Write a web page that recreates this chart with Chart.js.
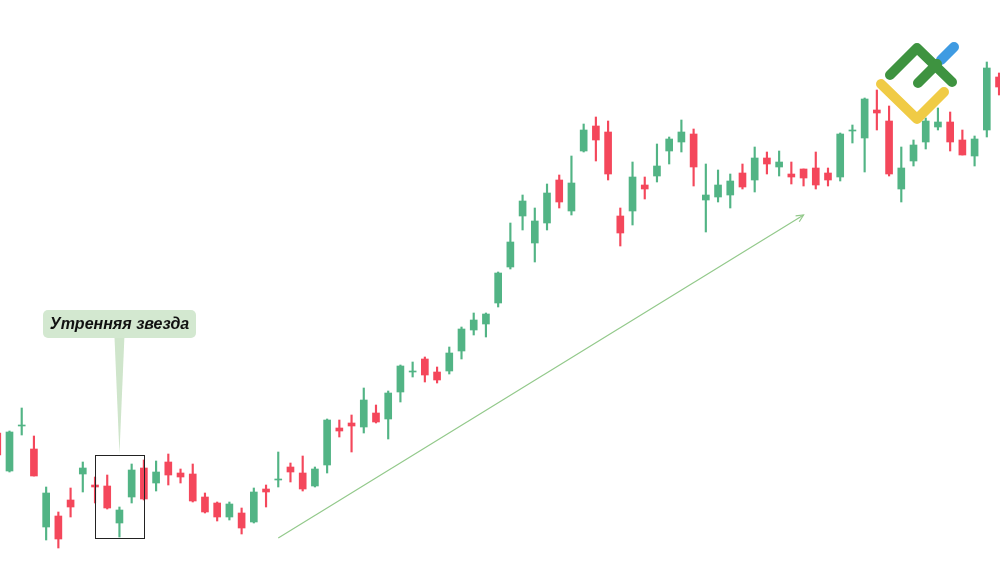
<!DOCTYPE html>
<html>
<head>
<meta charset="utf-8">
<script src="https://cdn.jsdelivr.net/npm/chart.js@4.4.1/dist/chart.umd.min.js"></script>
<style>
  html, body { margin: 0; padding: 0; background: #ffffff; }
  #wrap { width: 1000px; height: 573px; position: relative; }
</style>
</head>
<body>
<div id="wrap"><canvas id="chart"></canvas></div>
<script>
// candle prices (arbitrary units)
const opens = [140, 102, 147, 124, 46, 57, 73, 99, 88, 87, 50, 76, 105, 90, 111, 100, 99, 76, 70, 56,
    60, 51, 84, 93, 106, 100, 87, 108, 145, 150, 146, 160, 154, 181, 201, 214, 201, 202, 222, 243,
    249, 270, 306, 357, 330, 350, 393, 362, 422, 447, 441, 357, 362, 388, 397, 422, 431, 439, 373, 376,
    378, 400, 393, 415, 406, 399, 404, 405, 400, 396, 442, 435, 463, 452, 384, 412, 431, 446, 451, 433,
    417, 443, 496];
const closes = [118, 141, 148, 97, 80, 34, 66, 105, 86, 65, 63, 103, 74, 101, 98, 96, 72, 61, 56, 69,
    45, 81, 81, 94, 101, 84, 104, 153, 142, 147, 173, 151, 180, 207, 202, 198, 193, 220, 244, 253,
    259, 300, 331, 372, 352, 380, 371, 390, 443, 433, 399, 340, 396, 384, 407, 434, 441, 406, 378, 388,
    392, 386, 415, 409, 411, 396, 395, 388, 393, 439, 443, 474, 460, 399, 405, 428, 452, 451, 431, 418,
    434, 505, 486];
const highs = [143, 142, 165, 137, 86, 61, 85, 111, 96, 98, 66, 109, 113, 112, 119, 104, 109, 80, 71, 71,
    65, 85, 88, 121, 110, 117, 106, 154, 153, 158, 185, 168, 182, 208, 211, 216, 206, 226, 246, 260,
    260, 301, 350, 378, 365, 389, 398, 417, 449, 456, 452, 365, 411, 396, 429, 436, 453, 444, 409, 403,
    399, 409, 426, 421, 422, 411, 404, 421, 405, 440, 448, 475, 483, 467, 426, 433, 455, 465, 461, 443,
    437, 511, 500];
const lows = [115, 101, 138, 97, 33, 25, 56, 81, 70, 64, 36, 70, 73, 82, 88, 90, 71, 60, 52, 53,
    39, 50, 66, 86, 91, 82, 86, 100, 136, 121, 140, 150, 134, 171, 196, 191, 190, 199, 214, 238,
    236, 266, 304, 343, 311, 343, 365, 358, 421, 412, 393, 327, 348, 374, 391, 409, 421, 387, 341, 371,
    365, 384, 381, 399, 397, 389, 387, 384, 387, 392, 430, 401, 443, 397, 371, 407, 424, 443, 422, 418,
    407, 436, 478];

// pattern marked on the chart
const patternFrom = 8, patternTo = 12, patternLow = 35, patternHigh = 118;
const patternLabel = "Утренняя звезда";
// trend arrow (candle index, price)
const trendFrom = [23, 35], trendTo = [66, 358];

const up = "#52b485";
const down = "#f4475b";
const idx = opens.map((_, i) => i);
const colors = idx.map(i => closes[i] >= opens[i] ? up : down);

const annotations = {
    id: "annotations",
    afterDatasetsDraw(chart) {
        const ctx = chart.ctx;
        const xs = chart.scales.x, ys = chart.scales.y;

        // arrow head on trend line
        const x1 = xs.getPixelForValue(trendFrom[0]), y1 = ys.getPixelForValue(trendFrom[1]);
        const x2 = xs.getPixelForValue(trendTo[0]), y2 = ys.getPixelForValue(trendTo[1]);
        const a = Math.atan2(y2 - y1, x2 - x1);
        ctx.save();
        ctx.strokeStyle = "#93c98b";
        ctx.lineWidth = 1.2;
        ctx.beginPath();
        ctx.moveTo(x2 - 8 * Math.cos(a - 0.45), y2 - 8 * Math.sin(a - 0.45));
        ctx.lineTo(x2, y2);
        ctx.lineTo(x2 - 8 * Math.cos(a + 0.45), y2 - 8 * Math.sin(a + 0.45));
        ctx.stroke();

        // box around the pattern
        const bl = xs.getPixelForValue(patternFrom), br = xs.getPixelForValue(patternTo);
        const bt = ys.getPixelForValue(patternHigh), bb = ys.getPixelForValue(patternLow);
        ctx.strokeStyle = "#222222";
        ctx.lineWidth = 1;
        ctx.strokeRect(Math.round(bl) + 0.5, Math.round(bt) + 0.5, Math.round(br - bl), Math.round(bb - bt));

        // callout
        const cx = (bl + br) / 2;
        ctx.fillStyle = "#cfe5cb";
        ctx.beginPath();
        ctx.moveTo(cx - 5, 336);
        ctx.lineTo(cx + 5, 336);
        ctx.lineTo(cx, bt - 1);
        ctx.closePath();
        ctx.fill();
        ctx.fillStyle = "#d3e8d0";
        ctx.beginPath();
        ctx.roundRect(43, 310, 153, 28, 5);
        ctx.fill();
        ctx.fillStyle = "#111111";
        ctx.font = "italic bold 16px 'Liberation Sans', Arial, sans-serif";
        ctx.textAlign = "center";
        ctx.textBaseline = "middle";
        ctx.fillText(patternLabel, 119.5, 324.5);

        // logo
        ctx.lineCap = "round";
        ctx.lineJoin = "round";
        ctx.lineWidth = 10;
        ctx.strokeStyle = "#3f9be2";
        ctx.beginPath();
        ctx.moveTo(941, 60);
        ctx.lineTo(954, 47);
        ctx.stroke();
        ctx.strokeStyle = "#f0cb45";
        ctx.beginPath();
        ctx.moveTo(881, 84);
        ctx.lineTo(917, 119);
        ctx.lineTo(944, 92);
        ctx.stroke();
        ctx.strokeStyle = "#3e9340";
        ctx.beginPath();
        ctx.moveTo(890, 75);
        ctx.lineTo(917, 48);
        ctx.lineTo(952, 82);
        ctx.stroke();
        ctx.beginPath();
        ctx.moveTo(918, 83);
        ctx.lineTo(937, 64);
        ctx.stroke();
        ctx.restore();
    },
};

new Chart(document.getElementById("chart"), {
    type: "bar",
    data: {
        datasets: [
            {
                label: "body",
                data: idx.map(i => ({ x: i, y: [opens[i], closes[i]] })),
                backgroundColor: colors,
                barThickness: 7,
                borderWidth: 0,
                grouped: false,
                order: 1,
            },
            {
                label: "wick",
                data: idx.map(i => ({ x: i, y: [lows[i], highs[i]] })),
                backgroundColor: colors,
                barThickness: 1.5,
                borderWidth: 0,
                grouped: false,
                order: 2,
            },
            {
                type: "line",
                label: "trend",
                data: [
                    { x: trendFrom[0], y: trendFrom[1] },
                    { x: trendTo[0], y: trendTo[1] },
                ],
                borderColor: "#93c98b",
                borderWidth: 1.2,
                pointRadius: 0,
                fill: false,
                order: 0,
            },
        ],
    },
    options: {
        responsive: true,
        maintainAspectRatio: false,
        animation: false,
        layout: { padding: 0 },
        plugins: { legend: { display: false }, tooltip: { enabled: false } },
        scales: {
            x: { type: "linear", min: 0.2227, max: 82.08, offset: false, display: false },
            y: { min: 0, max: 573, display: false },
        },
    },
    plugins: [annotations],
});
</script>
</body>
</html>
